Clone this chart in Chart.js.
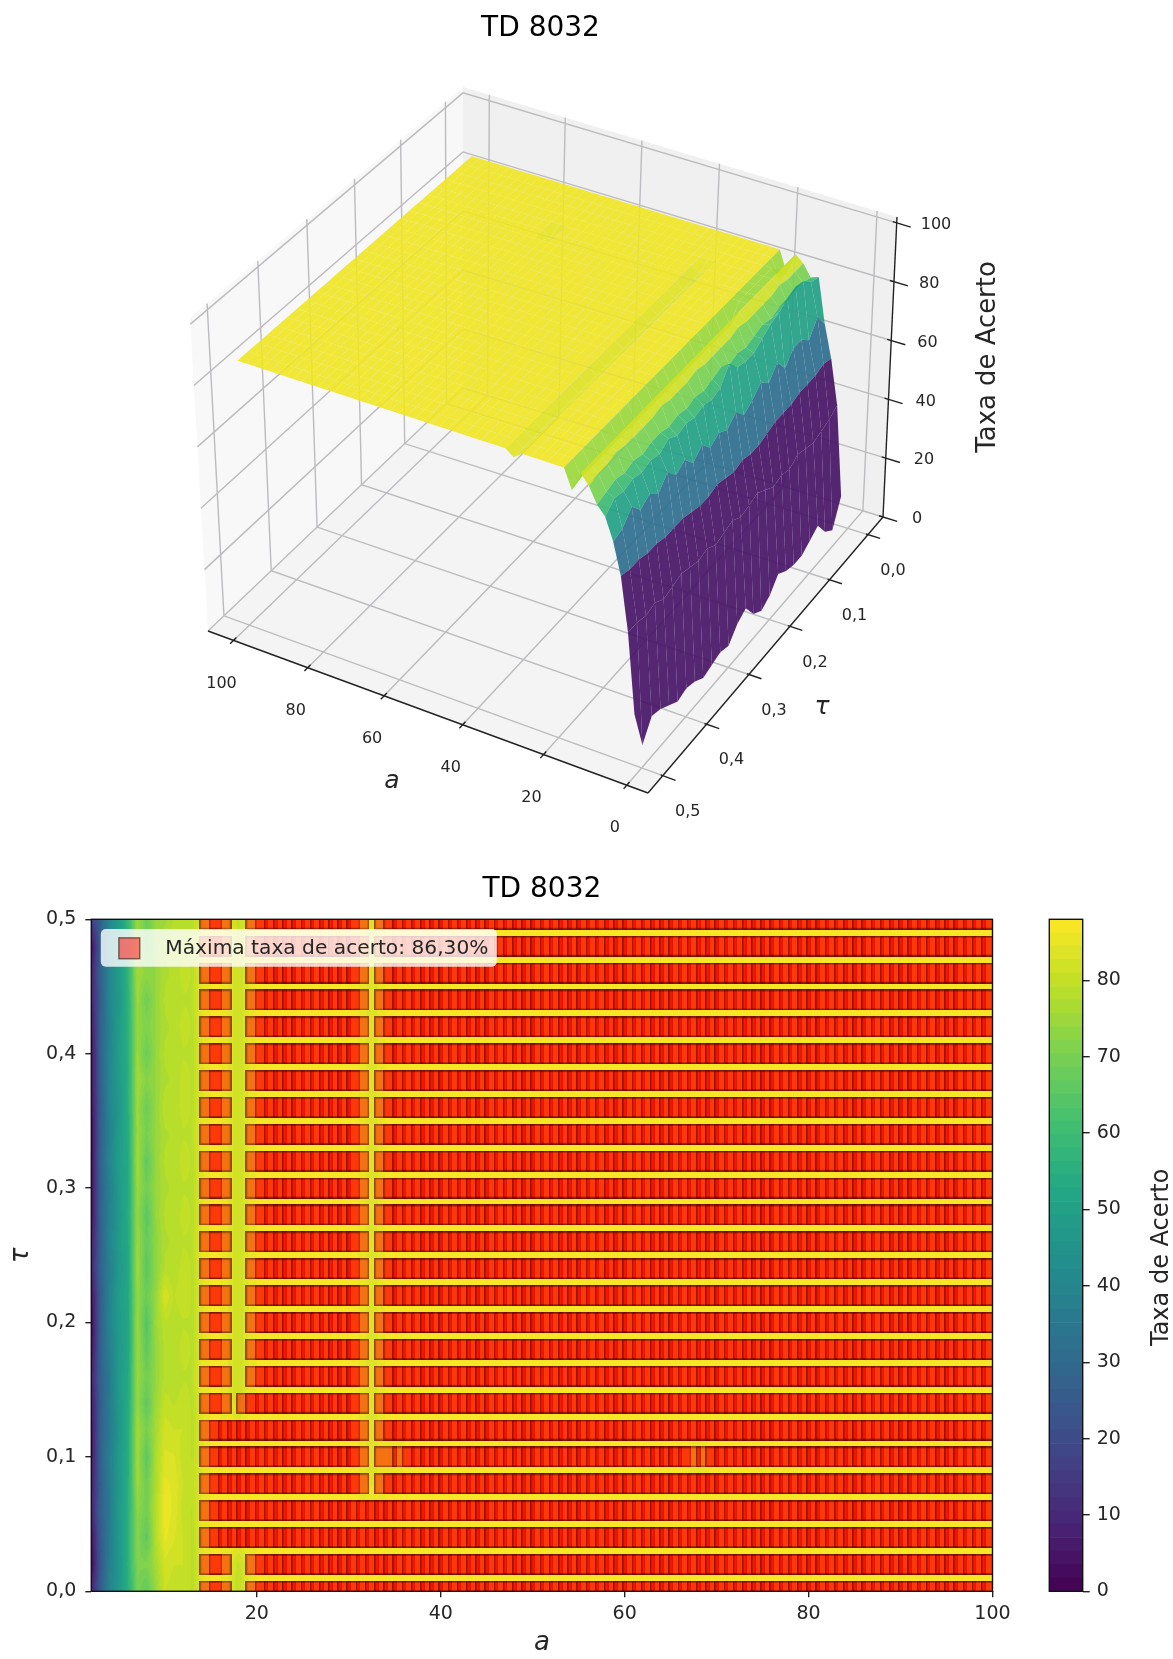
<!DOCTYPE html>
<html>
<head>
<meta charset="utf-8">
<title>TD 8032</title>
<script src="https://cdn.jsdelivr.net/npm/chart.js@4"></script>
<style>
    html, body { margin: 0; padding: 0; background: #fff; }
    body { position: relative; width: 1173px; height: 1659px; overflow: hidden; }
    canvas { position: absolute; filter: blur(0.6px); }
</style>
</head>
<body>
<div id="c3d" style="position:absolute;left:0;top:0;width:1081px;height:860px"><canvas id="surfaceChart"></canvas></div>
<div id="cheat" style="position:absolute;left:0;top:860px;width:1040px;height:799px"><canvas id="heatChart"></canvas></div>
<div id="cbar" style="position:absolute;left:1040px;top:860px;width:133px;height:799px"><canvas id="barChart"></canvas></div>
<script>
// taxa de acerto por coluna de a, cada lista vai de tau = 0,00 ate tau = 0,50
const tauValues = [0, 0.02, 0.04, 0.06, 0.08, 0.1, 0.12, 0.14, 0.16, 0.18, 0.2, 0.22, 0.24, 0.26, 0.28, 0.3, 0.32, 0.34, 0.36, 0.38, 0.4, 0.42, 0.44, 0.46, 0.48, 0.5];
const colA2 = [10, 1.5, 4, 9, 7, 5, 5, 6, 8, 4, 2, 4, 9, 7, 3, 4, 3, 2, 4, 5, 4, 6, 8, 9, 3, 16];
const colA3 = [26, 24, 25, 27, 26, 28, 27, 26, 27, 28, 27, 26, 28, 27, 28, 27, 28, 27, 26, 27, 28, 27, 26, 27, 26, 27];
const colA4 = [40, 38, 37, 36, 37, 38, 36, 37, 36, 38, 40, 39, 38, 40, 39, 38, 40, 39, 40, 41, 40, 39, 41, 40, 41, 41];
const colA5 = [47, 46, 47, 48, 47, 48, 46, 47, 48, 47, 48, 49, 47, 48, 47, 48, 49, 48, 47, 48, 49, 48, 47, 48, 47, 48];
const colA6 = [55, 56, 55, 55, 55, 54, 54, 54, 53, 52, 52, 53, 52, 53, 54, 53, 53, 54, 55, 55, 55, 56, 56, 57, 57, 58];
const colA7 = [70, 71, 72, 73, 75, 76, 76, 74, 75, 75, 75, 74, 76, 75, 74, 75, 76, 75, 75, 76, 75, 74, 75, 76, 75, 75];
const colA8 = [66, 71, 66, 69, 69, 65, 70, 66, 69, 66, 64, 68, 65, 67, 65, 69, 66, 70, 68, 72, 68, 71, 69, 73, 69, 68];
const colA9 = [74, 76, 78, 78, 77, 77, 76, 75, 74, 74, 75, 74, 73, 73, 74, 74, 74, 74, 74, 74, 74, 74, 74, 74, 74, 74];
const colA10 = [81, 82, 85, 86, 85, 83, 82, 80, 78, 78, 79, 83, 78, 77, 78, 77, 78, 77, 79, 77, 78, 77, 78, 77, 78, 75];
const colA11 = [80, 81, 83, 84, 84, 83, 81, 79, 78, 78, 78, 79, 78, 78, 78, 78, 78, 78, 78, 78, 78, 78, 78, 78, 78, 78];
const colA12 = [80, 81, 81, 80, 81, 80, 81, 80, 79, 80, 79, 81, 80, 79, 80, 79, 80, 79, 80, 80, 79, 80, 79, 80, 79, 78];
const colA13 = [79, 79, 79, 79, 80, 79, 79, 79, 79, 79, 79, 79, 79, 79, 79, 79, 79, 79, 79, 79, 79, 79, 79, 79, 79, 79];
const colA14 = [84, 84, 84, 85, 84, 84, 84, 84, 85, 84, 84, 84, 84, 85, 84, 84, 84, 85, 84, 84, 84, 84, 85, 84, 84, 83];
const gapA18 = [79, 80, 81, 81, 81, 81, 81, 81, 81, 81, 81, 81, 81, 81, 81, 81, 81, 81, 81, 81, 81, 81, 81, 81, 81, 80];
const lowColumns = [colA2, colA3, colA4, colA5, colA6, colA7, colA8, colA9, colA10, colA11, colA12, colA13, colA14];

const maxAccuracy = 86.3;
const gapAccuracy = 84.3;
const runsMain = [[15, 16], [20, 31], [34, 100]];
const runsLow = [[15, 16], [20, 100]];
const runsFull = [[15, 100]];
const runsMid = [[15, 31], [34, 100]];
const runsDip = [[15, 31], [34, 34], [36, 67], [69, 100]];
const runsStep = [[15, 16], [19, 31], [34, 100]];
// uma entrada por tau: faixas de a em que a taxa maxima foi atingida
const maxRuns = [runsLow, runsLow, runsFull, runsFull, runsMid, runsDip, runsMid, runsStep,
    runsMain, runsMain, runsMain, runsMain, runsMain, runsMain, runsMain, runsMain, runsMain,
    runsMain, runsMain, runsMain, runsMain, runsMain, runsMain, runsMain, runsMain, runsMain];

const aTicks = [0, 20, 40, 60, 80, 100];
const aTicksHeat = [20, 40, 60, 80, 100];
const tauTicks = [0, 0.1, 0.2, 0.3, 0.4, 0.5];
const zTicks = [0, 20, 40, 60, 80, 100];
const barTicks = [0, 10, 20, 30, 40, 50, 60, 70, 80];
// cor de cada faixa da superficie (a = 2, 4, ... 18), posicao no viridis
const stripTones = [0.05, 0.05, 0.36, 0.57, 0.68, 0.8, 0.93, 0.85, 0.85];

const chartTitle = 'TD 8032';
const legendText = 'Máxima taxa de acerto: 86,30%';
const accuracyLabel = 'Taxa de Acerto';

const BAR_MAX = 88;
const LEVEL_COUNT = 50;
const FONT = '"DejaVu Sans", sans-serif';
const TEXT = '#262626';

const viridisStops = ['#440154', '#482475', '#414487', '#355f8d', '#2a788e', '#21918c', '#22a884', '#44bf70', '#7ad151', '#bddf26', '#fde725'];
const viridisRgb = viridisStops.map(h => [1, 3, 5].map(i => parseInt(h.substr(i, 2), 16)));

function viridis(t) {
    const p = Math.min(Math.max(t, 0), 1) * 10;
    const i = Math.min(Math.floor(p), 9);
    const f = p - i;
    return viridisRgb[i].map((c, k) => Math.round(c + (viridisRgb[i + 1][k] - c) * f));
}

function bandColor(value) {
    const step = BAR_MAX / LEVEL_COUNT;
    const band = Math.min(Math.floor(value / step), LEVEL_COUNT - 1);
    return viridis((band + 0.5) * step / BAR_MAX);
}

function inRuns(runs, a) {
    return runs.some(r => a >= r[0] && a <= r[1]);
}

// monta a grade completa (a = 2..100) a partir das listas acima
const grid = tauValues.map((tau, r) => {
    const row = [];
    for (let a = 2; a <= 100; a++) {
        if (a <= 14) row.push(lowColumns[a - 2][r]);
        else if (inRuns(maxRuns[r], a)) row.push(maxAccuracy);
        else if (a === 18) row.push(gapA18[r]);
        else row.push(gapAccuracy);
    }
    return row;
});

function fmtComma(v) {
    return v.toFixed(1).replace('.', ',');
}

// ---------- projecao da caixa 3D para o plano do grafico ----------
const boxA = [-5, 107];
const boxTau = [-0.04, 0.533];
const boxZ = [0, 102];
// cantos do chao e do teto: frente, esquerda, fundo, direita
const floorCorners = [[648, 793], [208, 631], [463, 388], [883, 517]];
const ceilCorners = [[656, 468], [190, 318], [463, 87], [897, 217]];

function quadMap(corners) {
    const [[x0, y0], [x1, y1], [x2, y2], [x3, y3]] = corners;
    const sx = x0 - x1 + x2 - x3, sy = y0 - y1 + y2 - y3;
    const dx1 = x1 - x2, dx2 = x3 - x2, dy1 = y1 - y2, dy2 = y3 - y2;
    const den = dx1 * dy2 - dx2 * dy1;
    const g = (sx * dy2 - dx2 * sy) / den, h = (dx1 * sy - sx * dy1) / den;
    const a = x1 - x0 + g * x1, b = x3 - x0 + h * x3, d = y1 - y0 + g * y1, e = y3 - y0 + h * y3;
    return (u, v) => {
        const w = g * u + h * v + 1;
        return [(a * u + b * v + x0) / w, (d * u + e * v + y0) / w];
    };
}
const floorMap = quadMap(floorCorners);
const ceilMap = quadMap(ceilCorners);

function view(a, tau, z) {
    const u = (a - boxA[0]) / (boxA[1] - boxA[0]);
    const v = (boxTau[1] - tau) / (boxTau[1] - boxTau[0]);
    const w = (z - boxZ[0]) / (boxZ[1] - boxZ[0]);
    const f = floorMap(u, v), c = ceilMap(u, v);
    return { x: f[0] + (c[0] - f[0]) * w, y: f[1] + (c[1] - f[1]) * w };
}

function shape(points, color) {
    return { data: points.concat([points[0]]), showLine: true, fill: 'shape', backgroundColor: color, borderColor: 'transparent', borderWidth: 0, pointRadius: 0, tension: 0 };
}

function stroke(points, color, width) {
    return { data: points, showLine: true, fill: false, borderColor: color, borderWidth: width, pointRadius: 0, tension: 0 };
}

function buildSurfaceDatasets() {
    const layers = [];
    const [aMin, aMax] = boxA, [tMin, tMax] = boxTau, [zMin, zMax] = boxZ;
    layers.push(shape([view(aMin, tMax, 0), view(aMax, tMax, 0), view(aMax, tMin, 0), view(aMin, tMin, 0)], '#f4f4f4'));
    layers.push(shape([view(aMax, tMax, zMin), view(aMax, tMin, zMin), view(aMax, tMin, zMax), view(aMax, tMax, zMax)], '#f8f8f8'));
    layers.push(shape([view(aMax, tMin, zMin), view(aMin, tMin, zMin), view(aMin, tMin, zMax), view(aMax, tMin, zMax)], '#f0f0f0'));

    const gridColor = '#bcbcc0';
    aTicks.forEach(a => layers.push(stroke([view(a, tMax, 0), view(a, tMin, 0), view(a, tMin, zMax)], gridColor, 1.4)));
    tauTicks.forEach(t => layers.push(stroke([view(aMin, t, 0), view(aMax, t, 0), view(aMax, t, zMax)], gridColor, 1.4)));
    zTicks.forEach(z => layers.push(stroke([view(aMax, tMax, z), view(aMax, tMin, z), view(aMin, tMin, z)], gridColor, 1.4)));

    const axisColor = '#222222';
    layers.push(stroke([view(aMin, tMax, 0), view(aMax, tMax, 0)], axisColor, 1.4));
    layers.push(stroke([view(aMin, tMax, 0), view(aMin, tMin, 0)], axisColor, 1.4));
    layers.push(stroke([view(aMin, tMin, 0), view(aMin, tMin, zMax)], axisColor, 1.4));
    aTicks.forEach(a => layers.push(stroke([view(a, tMax - 0.006, 0), view(a, tMax + 0.007, 0)], axisColor, 1.4)));
    tauTicks.forEach(t => layers.push(stroke([view(aMin + 0.5, t, 0), view(aMin - 3, t, 0)], axisColor, 1.4)));
    zTicks.forEach(z => layers.push(stroke([view(aMin + 1, tMin, z), view(aMin - 3.5, tMin, z)], axisColor, 1.4)));

    // do fundo (a grande, tau pequeno) para a frente
    for (let c = 48; c >= 0; c--) {
        const a0 = 2 + c * 2, a1 = a0 + 2;
        for (let r = 0; r < tauValues.length - 1; r++) {
            const z00 = grid[r][a0 - 2], z10 = grid[r][a1 - 2], z01 = grid[r + 1][a0 - 2], z11 = grid[r + 1][a1 - 2];
            const mean = (z00 + z10 + z01 + z11) / 4;
            const tone = c < stripTones.length ? stripTones[c] : 0.98 - (maxAccuracy - mean) * 0.025;
            const rgb = viridis(tone);
            layers.push(shape([
                view(a0, tauValues[r], z00), view(a1, tauValues[r], z10),
                view(a1, tauValues[r + 1], z11), view(a0, tauValues[r + 1], z01)
            ], `rgba(${rgb[0]},${rgb[1]},${rgb[2]},0.92)`));
        }
    }
    return layers.reverse();
}

const labels3d = {
    id: 'labels3d',
    afterDraw(chart) {
        const { ctx, scales } = chart;
        const put = (p, dx, dy, text, font, rot, align) => {
            ctx.save();
            ctx.translate(scales.x.getPixelForValue(p.x) + dx, scales.y.getPixelForValue(p.y) + dy);
            ctx.rotate(rot || 0);
            ctx.font = font;
            ctx.fillStyle = TEXT;
            ctx.textAlign = align || 'center';
            ctx.textBaseline = 'middle';
            ctx.fillText(text, 0, 0);
            ctx.restore();
        };
        const tickFont = '16px ' + FONT;
        aTicks.forEach(a => put(view(a, boxTau[1], 0), -12, 43, String(a), tickFont));
        tauTicks.forEach(t => put(view(boxA[0], t, 0), 25, 36, fmtComma(t), tickFont));
        zTicks.forEach(z => put(view(boxA[0], boxTau[0], z), 29 - z * 0.05, 2, String(z), tickFont, 0, 'left'));
        put({ x: 392, y: 781 }, 0, 0, 'a', 'italic 25px ' + FONT);
        put({ x: 822, y: 707 }, 0, 0, 'τ', 'italic 25px ' + FONT);
        put({ x: 988, y: 357 }, 0, 0, accuracyLabel, '25.9px ' + FONT, -Math.PI / 2);
    }
};

new Chart(document.getElementById('surfaceChart'), {
    type: 'scatter',
    data: { datasets: buildSurfaceDatasets() },
    plugins: [labels3d],
    options: {
        animation: false,
        responsive: true,
        maintainAspectRatio: false,
        events: [],
        layout: { padding: 0 },
        plugins: {
            legend: { display: false },
            tooltip: { enabled: false },
            title: { display: true, text: chartTitle, color: '#000', font: { family: FONT, size: 28, weight: 'normal' }, padding: { top: 12.2, bottom: 8.2 } }
        },
        scales: {
            x: { type: 'linear', display: false, min: 0, max: 1081 },
            y: { type: 'linear', display: false, min: 54, max: 860, reverse: true }
        }
    }
});

// ---------- mapa de calor ----------
function heatValue(a, tau) {
    const cf = Math.min(Math.max(a - 2, 0), 98);
    const rf = Math.min(Math.max(tau / 0.02, 0), 25);
    const c0 = Math.min(Math.floor(cf), 97), r0 = Math.min(Math.floor(rf), 24);
    const fc = cf - c0, fr = rf - r0;
    const top = grid[r0][c0] * (1 - fc) + grid[r0][c0 + 1] * fc;
    const bot = grid[r0 + 1][c0] * (1 - fc) + grid[r0 + 1][c0 + 1] * fc;
    return top * (1 - fr) + bot * fr;
}

let heatImage = null;
const heatBackground = {
    id: 'heatBackground',
    beforeDatasetsDraw(chart) {
        const { ctx, chartArea: area, scales } = chart;
        const w = Math.round(area.width), h = Math.round(area.height);
        if (!heatImage) {
            heatImage = document.createElement('canvas');
            heatImage.width = w;
            heatImage.height = h;
            const g = heatImage.getContext('2d');
            const img = g.createImageData(w, h);
            for (let py = 0; py < h; py++) {
                const tau = scales.y.getValueForPixel(area.top + py + 0.5);
                for (let px = 0; px < w; px++) {
                    const a = scales.x.getValueForPixel(area.left + px + 0.5);
                    const rgb = bandColor(heatValue(a, tau));
                    const o = (py * w + px) * 4;
                    img.data[o] = rgb[0]; img.data[o + 1] = rgb[1]; img.data[o + 2] = rgb[2]; img.data[o + 3] = 255;
                }
            }
            g.putImageData(img, 0, 0);
        }
        ctx.drawImage(heatImage, area.left, area.top, area.width, area.height);
    }
};

const heatFrame = {
    id: 'heatFrame',
    afterDraw(chart) {
        const { ctx, chartArea: area } = chart;
        ctx.save();
        ctx.strokeStyle = '#111';
        ctx.lineWidth = 1.4;
        ctx.strokeRect(area.left, area.top, area.width, area.height);
        // legenda por cima das celulas
        ctx.beginPath();
        ctx.roundRect(area.left + 9.5, area.top + 9.7, 396, 37.7, 5);
        ctx.fillStyle = 'rgba(255,255,255,0.8)';
        ctx.fill();
        ctx.fillStyle = 'rgba(255,0,0,0.5)';
        ctx.fillRect(area.left + 27.5, area.top + 18.5, 21, 21);
        ctx.strokeStyle = 'rgba(0,0,0,0.5)';
        ctx.lineWidth = 1.4;
        ctx.strokeRect(area.left + 27.5, area.top + 18.5, 21, 21);
        ctx.font = '20.2px ' + FONT;
        ctx.fillStyle = TEXT;
        ctx.textAlign = 'left';
        ctx.textBaseline = 'middle';
        ctx.fillText(legendText, area.left + 74, area.top + 29);
        ctx.restore();
    }
};

function maxCellMarker() {
    const c = document.createElement('canvas');
    c.width = 23;
    c.height = 21;
    const g = c.getContext('2d');
    g.fillStyle = 'rgba(255,0,0,0.5)';
    g.fillRect(0, 0, 23, 21);
    g.strokeStyle = 'rgba(0,0,0,0.38)';
    g.lineWidth = 1.6;
    g.strokeRect(0.8, 0.8, 21.4, 19.4);
    return c;
}

const maxCells = [];
tauValues.forEach((tau, r) => {
    maxRuns[r].forEach(run => {
        for (let a = run[0]; a <= run[1]; a++) maxCells.push({ x: a, y: tau });
    });
});

new Chart(document.getElementById('heatChart'), {
    type: 'scatter',
    data: {
        datasets: [{ data: maxCells, pointStyle: maxCellMarker(), pointRadius: 12, showLine: false, clip: 0 }]
    },
    plugins: [heatBackground, heatFrame],
    options: {
        animation: false,
        responsive: true,
        maintainAspectRatio: false,
        events: [],
        layout: { padding: { right: 47.5 } },
        plugins: {
            legend: { display: false },
            tooltip: { enabled: false },
            title: { display: true, text: chartTitle, color: '#000', fullSize: false, font: { family: FONT, size: 28, weight: 'normal' }, padding: { top: 12.8, bottom: 12.9 } }
        },
        scales: {
            x: {
                type: 'linear', min: 2, max: 100,
                afterBuildTicks: axis => { axis.ticks = aTicksHeat.map(value => ({ value })); },
                afterFit: axis => { axis.height = 67.7; },
                border: { display: false },
                grid: { drawOnChartArea: false, tickLength: 6, color: '#222', lineWidth: 1.4 },
                ticks: { color: TEXT, font: { family: FONT, size: 19 }, padding: 5, maxRotation: 0, autoSkip: false },
                title: { display: true, text: 'a', color: TEXT, font: { family: FONT, size: 26, style: 'italic' }, padding: 0 }
            },
            y: {
                type: 'linear', min: 0, max: 0.5,
                afterBuildTicks: axis => { axis.ticks = tauTicks.map(value => ({ value })); },
                afterFit: axis => { axis.width = 91.3; },
                border: { display: false },
                grid: { drawOnChartArea: false, tickLength: 6, color: '#222', lineWidth: 1.4 },
                ticks: { color: TEXT, font: { family: FONT, size: 19 }, padding: 9, autoSkip: false, callback: v => fmtComma(v) },
                title: { display: true, text: 'τ', color: TEXT, font: { family: FONT, size: 26, style: 'italic' }, padding: { top: 6, bottom: 0 } }
            }
        }
    }
});

// ---------- barra de cores ----------
const levelBands = [];
for (let i = 0; i < LEVEL_COUNT; i++) levelBands.push([i * BAR_MAX / LEVEL_COUNT, (i + 1) * BAR_MAX / LEVEL_COUNT]);

const barFrame = {
    id: 'barFrame',
    afterDraw(chart) {
        const { ctx, chartArea: area } = chart;
        ctx.save();
        ctx.strokeStyle = '#111';
        ctx.lineWidth = 1.4;
        ctx.strokeRect(area.left, area.top, area.width, area.height);
        ctx.translate(122, (area.top + area.bottom) / 2 + 2);
        ctx.rotate(-Math.PI / 2);
        ctx.font = '24px ' + FONT;
        ctx.fillStyle = TEXT;
        ctx.textAlign = 'center';
        ctx.textBaseline = 'middle';
        ctx.fillText(accuracyLabel, 0, 0);
        ctx.restore();
    }
};

new Chart(document.getElementById('barChart'), {
    type: 'bar',
    data: {
        labels: [''],
        datasets: levelBands.map(b => {
            const rgb = bandColor((b[0] + b[1]) / 2);
            return { data: [b], backgroundColor: `rgb(${rgb[0]},${rgb[1]},${rgb[2]})`, borderWidth: 0, grouped: false, barPercentage: 1, categoryPercentage: 1 };
        })
    },
    plugins: [barFrame],
    options: {
        animation: false,
        responsive: true,
        maintainAspectRatio: false,
        events: [],
        layout: { padding: { left: 9.3, top: 59.3, bottom: 67.7 } },
        plugins: { legend: { display: false }, tooltip: { enabled: false } },
        scales: {
            x: { display: false },
            y: {
                position: 'right', min: 0, max: BAR_MAX,
                afterBuildTicks: axis => { axis.ticks = barTicks.map(value => ({ value })); },
                afterFit: axis => { axis.width = 90.3; },
                border: { display: false },
                grid: { drawOnChartArea: false, tickLength: 7, color: '#222', lineWidth: 1.4 },
                ticks: { color: TEXT, font: { family: FONT, size: 19 }, padding: 7, autoSkip: false }
            }
        }
    }
});
</script>
</body>
</html>
